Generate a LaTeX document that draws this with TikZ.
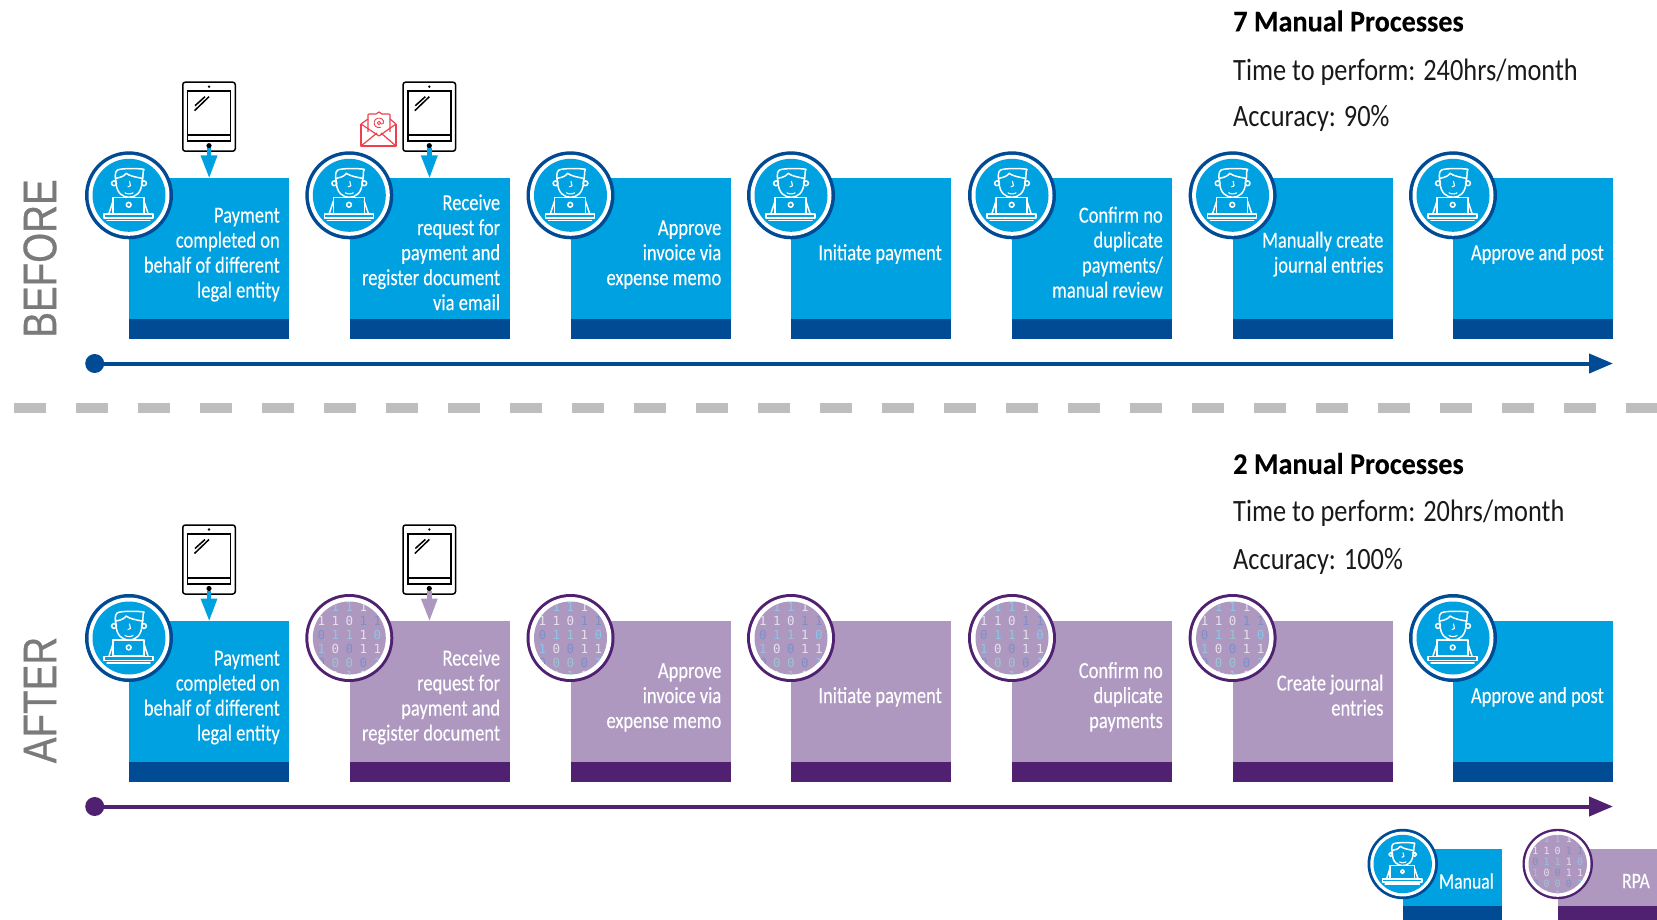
\documentclass[tikz,border=0pt]{standalone}
\usepackage{fontspec}
\setmainfont[FakeStretch=0.85]{Carlito}
\newfontfamily\boxfont[FakeStretch=0.805,FakeBold=0.15]{Carlito}
\newfontfamily\titlefont[FakeStretch=0.94,FakeBold=0.1]{Carlito Bold}
\newfontfamily\bigfont[FakeStretch=0.82,FakeBold=0.6]{Liberation Sans}
\newfontfamily\binfont{DejaVu Sans Mono}
\usetikzlibrary{arrows.meta}
\definecolor{cblue}{HTML}{00A1E0}
\definecolor{cnavy}{HTML}{004B93}
\definecolor{clil}{HTML}{AE98C0}
\definecolor{cpur}{HTML}{4F2170}
\definecolor{cgray}{HTML}{BEBEBE}
\definecolor{cred}{HTML}{EE3F4C}
\definecolor{dA}{HTML}{E6E0EE}
\definecolor{dB}{HTML}{8FC3E8}
\definecolor{dC}{HTML}{7F8FC8}
\definecolor{dD}{HTML}{9CC4D2}
\tikzset{
  x=1pt,y=-1pt,
  procbox/.style={anchor=north west,inner sep=0,minimum width=160pt,minimum height=142pt,text=white},
  legbox/.style={anchor=north west,inner sep=0,minimum width=99pt,minimum height=57pt},
  bandbox/.style={anchor=north west,inner sep=0,minimum width=160pt,minimum height=19.5pt},
  proctext/.style={anchor=east,align=right,inner sep=0,text=white,font=\boxfont\fontsize{23}{25}\selectfont},
  legtext/.style={anchor=east,inner sep=0,text=white,font=\boxfont\fontsize{22}{24}\selectfont},
  head/.style={anchor=west,inner sep=0,font=\fontsize{31}{33}\selectfont,text=black!90},
  titletext/.style={anchor=west,inner sep=0,font=\titlefont\fontsize{30}{32}\selectfont,text=black},
  tabletnode/.style={inner sep=0,minimum width=52.5pt,minimum height=69pt,rounded corners=2.5pt,draw=black,line width=1.5pt,fill=white},
  axisdot/.style={circle,inner sep=0,minimum size=19pt},
  sidelabel/.style={rotate=90,inner sep=0,text=black!52,font=\bigfont\fontsize{47}{47}\selectfont},
  person/.pic={
    \begin{scope}[draw=white,line width=1.5pt,line join=round,line cap=round]
      \draw (-13,-14) .. controls (-13,-2) and (-6,2) .. (0,2) .. controls (6,2) and (13,-2) .. (13,-14);
      \draw (-13,-14) .. controls (-15,-22) and (-13,-26) .. (-9,-26) .. controls (-3,-27) and (8,-27) .. (15,-26) .. controls (13,-23) and (15,-19) .. (13,-14);
      \draw (-13,-17) .. controls (-7,-18) and (-4,-20) .. (-3,-22) .. controls (1,-19) and (8,-18) .. (13,-17);
      \draw (-15,-12) circle (2.4) (15,-12) circle (2.4);
      \draw[line width=1.1pt] (0.5,-14) -- (1.5,-9.5) -- (-1,-8.5);
      \draw[line width=1.1pt] (-4,-2.5) .. controls (-2,-1) and (2,-1) .. (4,-2.5);
      \fill[cblue] (-17,2) rectangle (16,19);
      \draw (-16,2) rectangle (15,18);
      \draw (-16,6) -- (-20,18) (15,6) -- (19,18);
      \draw (-0.3,9.5) circle (2.4);
      \draw (-25,18.5) rectangle (24,22.5);
      \draw (-22,25) -- (21,25);
    \end{scope}
  },
  pics/mancirc/.style={code={
    \fill[cnavy] (0,0) circle (44*#1);
    \fill[white] (0,0) circle (40.5*#1);
    \fill[cblue] (0,0) circle (36.5*#1);
    \pic[scale=#1] {person};
  }},
  pics/rpacirc/.style={code={
    \fill[cpur] (0,0) circle (44*#1);
    \fill[white] (0,0) circle (41*#1);
    \fill[clil] (0,0) circle (36.5*#1);
    \pgfmathsetmacro{\binfs}{12.5*#1}
    \begin{scope}
      \clip (0,0) circle (36.5*#1);
      \foreach \dx/\dy/\dg/\cl in {
        -14/-31/1/dB,0/-31/1/dB,14/-31/1/dA,
        -28/-17/1/dA,-14/-17/1/dA,0/-17/0/dA,14/-17/1/dC,28/-17/1/dC,
        -28/-3/0/dC,-14/-3/1/dB,0/-3/1/dD,14/-3/1/dA,28/-3/0/dB,
        -28/11/1/dB,-14/11/0/dA,0/11/0/dC,14/11/1/dA,28/11/1/dA,
        -28/25/0/dC,-14/25/0/dD,0/25/0/dD,14/25/0/dC,28/25/1/dB,
        -14/38/1/dA,0/38/1/dD,14/38/0/dA}
        \node[inner sep=0,text=\cl,font=\binfont\fontsize{\binfs}{12}\selectfont] at (\dx*#1,\dy*#1) {\dg};
    \end{scope}
  }},
  tabletpic/.pic={
    \draw[line width=1.5pt] (-21.5,-25.5) rectangle (21.5,24.5);
    \draw[line width=1.5pt] (-21.5,18.5) -- (21.5,18.5);
    \fill[black] (0,-30) circle (1.3);
    \fill[black] (0,29) circle (2.6);
    \draw[line width=1.5pt] (-14,-11) -- (-4,-20);
    \draw[line width=1.5pt] (-14.5,-6) -- (0,-20);
  },
  envelope/.pic={
    \begin{scope}[draw=cred,line width=1.2pt,line join=round]
      \draw (-18,-8) -- (-18,14) -- (17,14) -- (17,-8);
      \draw (-18,-8) -- (-11,-13) (17,-8) -- (11,-13);
      \draw (-11,0) -- (-11,-17) .. controls (-11,-18) and (-10,-18) .. (-9,-18) -- (-3,-18) -- (0,-20) -- (3,-18) -- (9,-18) .. controls (10,-18) and (11,-18) .. (11,-17) -- (11,0);
      \draw (-18,-8) -- (0,4) -- (17,-8);
      \draw (-18,14) -- (-2,1) (17,14) -- (2,1);
      \draw[line width=.9pt] (0,-9) circle (1.8);
      \draw[line width=.9pt] (2,-8) .. controls (4,-7) and (5,-9) .. (4.5,-11) .. controls (3.5,-14) and (-1,-15) .. (-3.5,-12.5) .. controls (-6,-10) and (-5,-5) .. (-1,-4.5) -- (2,-4.8);
    \end{scope}
  },
}
\newcommand{\procstep}[6]{% name, x, ytop, fill, band, text
  \node[procbox,fill=#4] (box#1) at (#2,#3) {};
  \node[bandbox,fill=#5] (band#1) at (#2,#3+141.5) {};
  \node[proctext] (txt#1) at (#2+151,#3+77.5) {\rule{0pt}{16pt}#6\rule[-6pt]{0pt}{6pt}};
}
\begin{document}
\begin{tikzpicture}
\useasboundingbox (0,0) rectangle (1657,920);
% ---------- BEFORE
\procstep{a}{129}{177.6}{cblue}{cnavy}{Payment\\completed on\\behalf of different\\legal entity}
\procstep{b}{349.3}{177.6}{cblue}{cnavy}{Receive\\request for\\payment and\\register document\\via email}
\procstep{c}{570.5}{177.6}{cblue}{cnavy}{Approve\\invoice via\\expense memo}
\procstep{d}{791}{177.6}{cblue}{cnavy}{Initiate payment}
\procstep{e}{1012}{177.6}{cblue}{cnavy}{Confirm no\\duplicate\\payments/\\manual review}
\procstep{f}{1232.6}{177.6}{cblue}{cnavy}{Manually create\\journal entries}
\procstep{g}{1453}{177.6}{cblue}{cnavy}{Approve and post}
\foreach \x in {129,349.3,570.5,791,1012,1232.6,1453}
  \pic at (\x,195.3) {mancirc=1};
% tablets
\node[tabletnode] (tabA) at (209,116.7) {};
\pic at (209,116.7) {tabletpic};
\node[tabletnode] (tabB) at (429.3,116.7) {};
\pic at (429.3,116.7) {tabletpic};
\pic at (379,132) {envelope};
\draw[cblue,line width=4.5pt] (tabA.south)++(0,-4) -- ++(0,12);
\fill[cblue] (200.5,155.5) -- (217.5,155.5) -- (boxa.north) -- cycle;
\draw[cblue,line width=4.5pt] (tabB.south)++(0,-4) -- ++(0,12);
\fill[cblue] (420.8,155.5) -- (437.8,155.5) -- (boxb.north) -- cycle;
% axis
\node[axisdot,fill=cnavy] (dotT) at (94.7,363.5) {};
\coordinate (endT) at (1613,363.5);
\draw[cnavy,line width=4pt,-{Triangle[length=24pt,width=19pt]}] (dotT.center) -- (endT);
% divider
\draw[cgray,line width=9.5pt,dash pattern=on 32pt off 30pt] (14,408) -- (1657,408);
% headers
\node[titletext] (h1) at (1233,21) {7 Manual Processes};
\node[head] (h2) at (1233,72) {Time to perform: 240hrs/month};
\node[head] (h3) at (1233,118) {Accuracy: 90\%};
\node[sidelabel] (lbT) at (40,258.5) {BEFORE};
% ---------- AFTER
\procstep{h}{129}{620.5}{cblue}{cnavy}{Payment\\completed on\\behalf of different\\legal entity}
\procstep{i}{349.3}{620.5}{clil}{cpur}{Receive\\request for\\payment and\\register document}
\procstep{j}{570.5}{620.5}{clil}{cpur}{Approve\\invoice via\\expense memo}
\procstep{k}{791}{620.5}{clil}{cpur}{Initiate payment}
\procstep{l}{1012}{620.5}{clil}{cpur}{Confirm no\\duplicate\\payments}
\procstep{m}{1232.6}{620.5}{clil}{cpur}{Create journal\\entries}
\procstep{n}{1453}{620.5}{cblue}{cnavy}{Approve and post}
\pic at (129,638) {mancirc=1};
\pic at (1453,638) {mancirc=1};
\foreach \x in {349.3,570.5,791,1012,1232.6}
  \pic at (\x,638) {rpacirc=1};
\node[tabletnode] (tabC) at (209,559.5) {};
\pic at (209,559.5) {tabletpic};
\node[tabletnode] (tabD) at (429.3,559.5) {};
\pic at (429.3,559.5) {tabletpic};
\draw[cblue,line width=4.5pt] (tabC.south)++(0,-4) -- ++(0,12);
\fill[cblue] (200.5,598.5) -- (217.5,598.5) -- (boxh.north) -- cycle;
\draw[clil,line width=4.5pt] (tabD.south)++(0,-4) -- ++(0,12);
\fill[clil] (420.8,598.5) -- (437.8,598.5) -- (boxi.north) -- cycle;
\node[axisdot,fill=cpur] (dotB) at (94.7,806.5) {};
\coordinate (endB) at (1613,806.5);
\draw[cpur,line width=4pt,-{Triangle[length=24pt,width=19pt]}] (dotB.center) -- (endB);
\node[titletext] (h4) at (1233,463.5) {2 Manual Processes};
\node[head] (h5) at (1233,513) {Time to perform: 20hrs/month};
\node[head] (h6) at (1233,561) {Accuracy: 100\%};
\node[sidelabel] (lbB) at (40,700) {AFTER};
% ---------- legend
\node[legbox,fill=cblue] (legM) at (1402.7,849) {};
\node[legbox,fill=cnavy,minimum height=16pt] (legMb) at (1402.7,906) {};
\node[legbox,fill=clil] (legR) at (1557.7,849) {};
\node[legbox,fill=cpur,minimum height=16pt] (legRb) at (1557.7,906) {};
\pic at (1402.7,864) {mancirc=0.8};
\pic at (1557.7,864) {rpacirc=0.8};
\node[legtext] (legMt) at (1494,881) {Manual};
\node[legtext] (legRt) at (1650,881) {RPA};
\end{tikzpicture}
\end{document}
